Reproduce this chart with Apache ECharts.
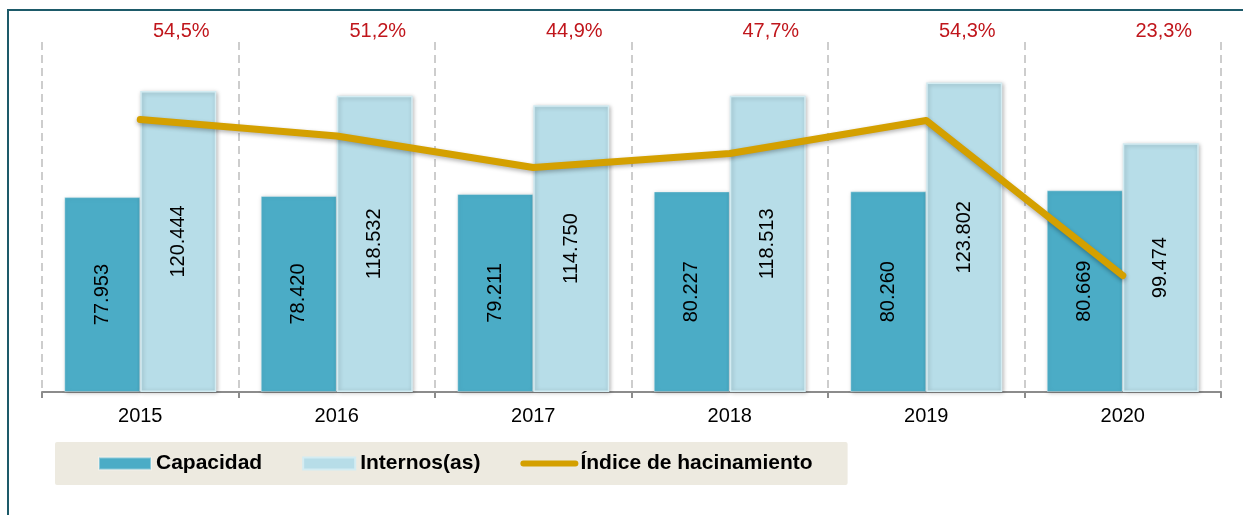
<!DOCTYPE html>
<html>
<head>
<meta charset="utf-8">
<script src="https://cdn.jsdelivr.net/npm/echarts@6/dist/echarts.min.js"></script>
<style>
  html, body { margin: 0; padding: 0; background: #fff; }
  #chart { width: 1243px; height: 515px; }
  .frame {
    position: absolute; left: 7px; top: 9px; right: 0; bottom: -4px;
    border-top: 2px solid #1d5a69; border-left: 2px solid #1d5a69;
    pointer-events: none;
  }
</style>
</head>
<body>
<div id="chart"></div>
<div class="frame"></div>
<script>
const years = ['2015', '2016', '2017', '2018', '2019', '2020']
const capacidad = [77953, 78420, 79211, 80227, 80260, 80669]
const internos = [120444, 118532, 114750, 118513, 123802, 99474]
const hacinamiento = [54.5, 51.2, 44.9, 47.7, 54.3, 23.3]

const fontFamily = '"Liberation Sans", Arial, sans-serif'
const fmtMiles = v => String(v).replace(/\B(?=(\d{3})+(?!\d))/g, '.')
const fmtPct = v => v.toFixed(1).replace('.', ',') + '%'

const dom = echarts.init(document.getElementById('chart'))

const barLabel = {
  show: true,
  position: 'inside',
  rotate: 90,
  color: '#000',
  fontSize: 20,
  fontFamily: fontFamily,
  formatter: p => fmtMiles(p.value)
}

const option = {
  animation: false,
  textStyle: { fontFamily: fontFamily },
  grid: {
    left: 42,
    right: 22,
    top: 42,
    bottom: 123,
    containLabel: false
  },
  legend: {
    left: 55,
    top: 442,
    padding: [11, 35, 11, 43],
    backgroundColor: '#edeae0',
    borderRadius: 2,
    itemWidth: 52,
    itemHeight: 12,
    itemGap: 40,
    selectedMode: false,
    textStyle: { color: '#000', fontSize: 21, fontWeight: 'bold', fontFamily: fontFamily },
    data: [
      { name: 'Capacidad', icon: 'rect' },
      { name: 'Internos(as)', icon: 'rect' },
      {
        name: 'Índice de hacinamiento',
        itemStyle: { opacity: 0 },
        lineStyle: { width: 6, cap: 'round', color: '#d4a000' }
      }
    ]
  },
  xAxis: [{
    type: 'category',
    data: years,
    boundaryGap: true,
    axisLine: { show: true, lineStyle: { color: '#8c8c8c', width: 2 } },
    axisTick: { show: true, length: 6, lineStyle: { color: '#8c8c8c', width: 2 } },
    axisLabel: { color: '#000', fontSize: 20, margin: 14, fontFamily: fontFamily },
    splitLine: {
      show: true,
      lineStyle: { color: '#bdbdbd', width: 1.5, type: [8, 5] }
    }
  }],
  yAxis: [
    { type: 'value', min: 0, max: 140000, show: false, splitLine: { show: false } },
    { type: 'value', min: 0, max: 70, show: false, splitLine: { show: false } }
  ],
  series: [
    {
      name: 'Capacidad',
      type: 'bar',
      barWidth: 76,
      barGap: '0%',
      itemStyle: {
        color: '#4bacc6',
        borderColor: 'rgba(255,255,255,0.35)',
        borderWidth: 1,
        shadowColor: 'rgba(0,0,0,0.25)',
        shadowBlur: 4,
        shadowOffsetX: 1,
        shadowOffsetY: 1
      },
      label: barLabel,
      data: capacidad
    },
    {
      name: 'Internos(as)',
      type: 'bar',
      barWidth: 76,
      itemStyle: {
        color: '#b7dde8',
        borderColor: '#d3ecf2',
        borderWidth: 1.5,
        shadowColor: 'rgba(0,0,0,0.25)',
        shadowBlur: 4,
        shadowOffsetX: 1,
        shadowOffsetY: 1
      },
      label: barLabel,
      data: internos
    },
    {
      name: 'Índice de hacinamiento',
      type: 'line',
      yAxisIndex: 1,
      symbol: 'circle',
      symbolSize: 0,
      z: 5,
      lineStyle: {
        color: '#d4a000',
        width: 7,
        cap: 'round',
        join: 'round',
        shadowColor: 'rgba(0,0,0,0.3)',
        shadowBlur: 4,
        shadowOffsetY: 2
      },
      itemStyle: { color: '#d4a000' },
      label: {
        show: true,
        color: '#c0161c',
        fontSize: 20,
        fontFamily: fontFamily,
        formatter: p => fmtPct(p.value)
      },
      labelLayout: params => ({
        x: params.rect.x + params.rect.width / 2 + 41,
        y: 31,
        align: 'center',
        verticalAlign: 'middle'
      }),
      data: hacinamiento
    }
  ]
}

dom.setOption(option)
window.addEventListener('resize', () => dom.resize())
</script>
</body>
</html>
